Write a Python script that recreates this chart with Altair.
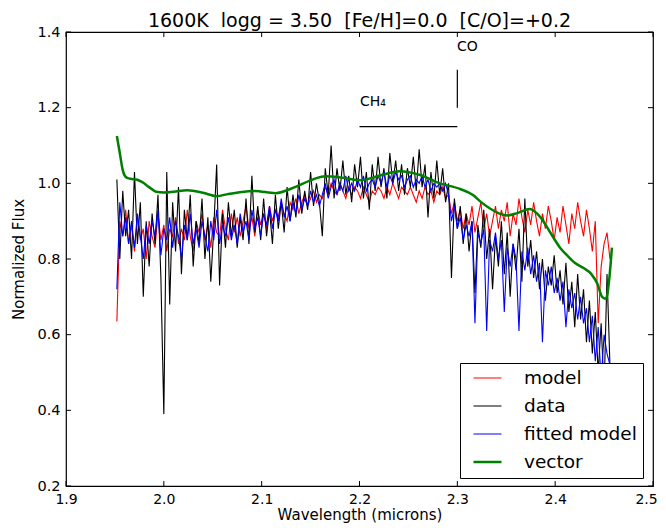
import altair as alt
import pandas as pd

# ---------------- data ----------------
wave_start = 1.952
wave_step = 0.003
n_points = 169
wave = [round(wave_start + wave_step * i, 3) for i in range(n_points)]

data_flux = [
    1.01, 0.80, 0.98, 0.86, 0.93, 0.80, 1.03, 0.84, 0.95, 0.70,
    0.90, 0.78, 0.92, 0.84, 0.97, 0.75, 0.39, 1.03, 0.68, 0.95,
    0.82, 0.99, 0.76, 0.93, 0.85, 0.97, 0.78, 0.90, 0.84, 0.96,
    0.80, 0.91, 0.74, 0.88, 1.05, 0.73, 0.92, 0.83, 0.95, 0.86,
    0.93, 0.83, 0.91, 0.85, 0.96, 0.84, 1.02, 0.87, 0.94, 0.85,
    0.96, 0.86, 0.93, 0.84, 0.97, 0.88, 0.95, 0.87, 0.99, 0.90,
    0.97, 0.91, 1.01, 0.92, 0.98, 0.93, 1.03, 0.94, 1.00, 0.95,
    0.86, 1.04, 0.97, 1.10, 0.96, 1.04, 0.98, 1.06, 0.97, 1.02,
    0.95, 1.05, 0.99, 1.07, 0.96, 1.03, 0.93, 1.05, 0.98, 1.07,
    0.99, 1.04, 0.96, 1.08, 1.00, 1.06, 0.98, 1.05, 0.97, 1.04,
    0.99, 1.07, 0.98, 1.09, 0.99, 1.05, 0.91, 1.03, 0.96, 1.06,
    0.97, 1.04, 0.95, 1.00, 0.75, 0.96, 0.88, 0.94, 0.84, 0.92,
    0.82, 0.90, 0.71, 0.89, 0.83, 0.93, 0.80, 0.88, 0.72, 0.86,
    0.78, 0.90, 0.76, 0.87, 0.70, 0.84, 0.77, 0.88, 0.74, 0.96,
    0.78, 0.85, 0.75, 0.82, 0.72, 0.80, 0.69, 0.78, 0.73, 0.81,
    0.71, 0.77, 0.68, 0.79, 0.66, 0.74, 0.62, 0.76, 0.64, 0.72,
    0.58, 0.69, 0.55, 0.66, 0.50, 0.63, 0.45, 0.76, 0.52,
]

model_flux = [
    0.635, 0.90, 0.86, 0.93, 0.84, 0.89, 0.82, 0.91, 0.85, 0.88,
    0.80, 0.90, 0.86, 0.83, 0.92, 0.85, 0.89, 0.82, 0.88, 0.86,
    0.91, 0.84, 0.88, 0.85, 0.93, 0.86, 0.82, 0.90, 0.87, 0.92,
    0.85, 0.89, 0.83, 0.91, 0.87, 0.86, 0.93, 0.88, 0.85, 0.92,
    0.87, 0.91, 0.86, 0.90, 0.94, 0.88, 0.91, 0.86, 0.93, 0.89,
    0.92, 0.88, 0.94, 0.90, 0.93, 0.91, 0.95, 0.92, 0.90, 0.95,
    0.93, 0.96, 0.92, 0.95, 0.97, 0.94, 0.96, 0.98, 0.95, 0.97,
    0.96, 0.99, 0.97, 1.00, 0.98, 0.97, 1.00, 0.98, 0.96, 0.99,
    0.97, 0.99, 0.98, 0.96, 0.99, 0.97, 0.95, 0.98, 0.97, 0.99,
    0.98, 0.96, 0.99, 0.97, 1.00, 0.98, 0.96, 0.99, 0.98, 0.97,
    0.99, 0.97, 0.95, 0.98, 0.96, 0.99, 0.97, 0.98, 0.95, 0.98,
    0.97, 0.99, 0.96, 0.97, 0.92, 0.95, 0.90, 0.93, 0.88, 0.92,
    0.89, 0.94, 0.87, 0.91, 0.95, 0.88, 0.92, 0.86, 0.90, 0.94,
    0.88, 0.93, 0.90, 0.95, 0.86, 0.92, 0.89, 0.96, 0.91, 0.87,
    0.93, 0.89, 0.95, 0.90, 0.86, 0.92, 0.88, 0.94, 0.90, 0.85,
    0.91, 0.87, 0.94, 0.89, 0.84, 0.92, 0.88, 0.95, 0.90, 0.86,
    0.93, 0.88, 0.82, 0.90, 0.63, 0.78, 0.84, 0.87, 0.80,
]

fitted_flux = [
    0.72, 0.95, 0.86, 0.91, 0.84, 0.90, 0.83, 0.92, 0.86, 0.80,
    0.89, 0.84, 0.90, 0.86, 0.93, 0.81, 0.88, 0.85, 0.91, 0.83,
    0.90, 0.86, 0.80, 0.89, 0.85, 0.92, 0.84, 0.88, 0.83, 0.90,
    0.86, 0.82, 0.90, 0.85, 0.93, 0.84, 0.89, 0.86, 0.91, 0.85,
    0.89, 0.84, 0.92, 0.87, 0.90, 0.85, 0.93, 0.88, 0.91, 0.86,
    0.92, 0.89, 0.94, 0.88, 0.93, 0.90, 0.96, 0.91, 0.94, 0.90,
    0.95, 0.92, 0.97, 0.93, 0.96, 0.94, 0.98, 0.95, 0.97, 0.94,
    0.97, 1.00, 0.96, 0.99, 1.01, 0.97, 1.00, 0.98, 1.02, 0.98,
    1.00, 0.98, 1.01, 0.99, 1.02, 0.98, 1.00, 1.01, 0.99, 1.02,
    1.00, 1.03, 0.99, 1.02, 1.00, 1.03, 1.01, 1.02, 0.99, 1.01,
    1.02, 0.99, 1.01, 1.00, 1.02, 0.99, 1.01, 0.98, 1.00, 0.99,
    1.00, 0.98, 1.00, 0.97, 0.90, 0.94, 0.88, 0.91, 0.85, 0.89,
    0.86, 0.90, 0.63, 0.87, 0.84, 0.88, 0.61, 0.85, 0.82, 0.87,
    0.80, 0.85, 0.66, 0.83, 0.78, 0.84, 0.80, 0.61, 0.82, 0.77,
    0.83, 0.76, 0.81, 0.74, 0.79, 0.58, 0.77, 0.73, 0.78, 0.71,
    0.75, 0.69, 0.74, 0.62, 0.72, 0.67, 0.71, 0.64, 0.70, 0.63,
    0.67, 0.58, 0.65, 0.53, 0.62, 0.48, 0.60, 0.55, 0.52,
]

vector_wave = [1.952, 1.955, 1.958, 1.962, 1.966, 1.972, 1.978, 1.985, 1.992, 2.000,
               2.010, 2.024, 2.040, 2.054, 2.066, 2.076, 2.093, 2.114, 2.134, 2.150,
               2.165, 2.185, 2.200, 2.220, 2.241, 2.262, 2.282, 2.303, 2.316, 2.323,
               2.333, 2.343, 2.351, 2.362, 2.374, 2.385, 2.395, 2.405, 2.412, 2.420,
               2.429, 2.437, 2.443, 2.448, 2.452, 2.455, 2.458]
vector_flux = [1.125, 1.08, 1.035, 1.015, 1.012, 1.010, 1.003, 0.99, 0.978, 0.976,
               0.978, 0.982, 0.975, 0.966, 0.972, 0.976, 0.98, 0.974, 0.99, 1.008,
               1.019, 1.014, 1.008, 1.02, 1.032, 1.022, 1.0, 0.985, 0.969, 0.953,
               0.934, 0.92, 0.915, 0.922, 0.932, 0.91, 0.87, 0.83, 0.81, 0.79,
               0.776, 0.76, 0.735, 0.70, 0.695, 0.74, 0.83]

series_names = ["model", "data", "fitted model", "vector"]
series_colors = ["#ff0000", "#000000", "#0000ff", "#008000"]
series_widths = [1.1, 1.1, 1.1, 2.5]

x_ticks = [1.9, 2.0, 2.1, 2.2, 2.3, 2.4, 2.5]
y_ticks = [0.2, 0.4, 0.6, 0.8, 1.0, 1.2, 1.4]

# annotations
ch4_band = {"x": [2.2], "x2": [2.3], "y": [1.15]}
co_line = {"x": [2.3], "y": [1.2], "y2": [1.3]}
labels_text = ["CH\u2084", "CO"]
labels_x = [2.2005, 2.2997]
labels_y = [1.215, 1.36]

title_text = "1600K\u00a0 logg = 3.50\u00a0 [Fe/H]=0.0\u00a0 [C/O]=+0.2"

# ---------------- build tables ----------------
rows = []
for name, flux in [("model", model_flux), ("data", data_flux), ("fitted model", fitted_flux)]:
    for i, (w, f) in enumerate(zip(wave, flux)):
        rows.append({"series": name, "wave": w, "flux": f, "idx": i})
for i, (w, f) in enumerate(zip(vector_wave, vector_flux)):
    rows.append({"series": "vector", "wave": w, "flux": f, "idx": i})
df = pd.DataFrame(rows)

W, H = 587, 454
FONT = "DejaVu Sans"

xscale = alt.Scale(domain=[1.9, 2.5], nice=False, zero=False)
yscale = alt.Scale(domain=[0.2, 1.4], nice=False, zero=False)
cscale = alt.Scale(domain=series_names, range=series_colors)
wscale = alt.Scale(domain=series_names, range=series_widths, type="ordinal")

xaxis = alt.Axis(values=x_ticks, format=".1f", ticks=False, domain=False, grid=False,
                 labelFontSize=14, labelPadding=6, labelColor="black",
                 labelOffset={"condition": {"test": "datum.value > 2.45", "value": -7}, "value": 0},
                 title="Wavelength (microns)", titleFontSize=15, titleFontWeight="normal",
                 titleColor="black", titlePadding=1, labelFlush=False)
yaxis = alt.Axis(values=y_ticks, format=".1f", ticks=False, domain=False, grid=False,
                 labelFontSize=14.5, labelPadding=6, labelColor="black",
                 title="Normalized Flux", titleFontSize=15, titleFontWeight="normal",
                 titleColor="black", titlePadding=10, labelFlush=False)

legend = alt.Legend(title=None, orient="none", legendX=394, legendY=331,
                    symbolType="stroke", symbolSize=784, labelFontSize=18.5, labelFont=FONT,
                    labelColor="black", labelOffset=21, padding=6, rowPadding=9,
                    clipHeight=18, symbolOffset=6,
                    symbolStrokeWidth=alt.ExprRef("datum.value === 'vector' ? 2.8 : 1.4"),
                    strokeColor="black", fillColor="white", cornerRadius=0)


def X(field):
    return alt.X(field, scale=xscale, axis=xaxis)


def Y(field):
    return alt.Y(field, scale=yscale, axis=yaxis)


def series_layer(name, interp="linear"):
    return alt.Chart(df).transform_filter(alt.datum.series == name).mark_line(
        clip=True, interpolate=interp
    ).encode(
        x=X("wave:Q"),
        y=Y("flux:Q"),
        color=alt.Color("series:N", scale=cscale, legend=legend),
        strokeWidth=alt.StrokeWidth("series:N", scale=wscale, legend=None),
        order="idx:Q",
    )


layers = [series_layer("model"), series_layer("data"), series_layer("fitted model"),
          series_layer("vector", "monotone")]

ch4 = alt.Chart(pd.DataFrame(ch4_band)).mark_rule(color="black", strokeWidth=1.2).encode(
    x=X("x:Q"), x2="x2:Q", y=Y("y:Q"))
co = alt.Chart(pd.DataFrame(co_line)).mark_rule(color="black", strokeWidth=1.2).encode(
    x=X("x:Q"), y=Y("y:Q"), y2="y2:Q")
txt = alt.Chart(pd.DataFrame({"t": labels_text, "x": labels_x, "y": labels_y})).mark_text(
    align="left", baseline="middle", fontSize=14, font=FONT, color="black").encode(
    x=X("x:Q"), y=Y("y:Q"), text="t:N")

xt = pd.DataFrame({"t": x_ticks})
yt = pd.DataFrame({"t": y_ticks})
TL = 5
tick_b = alt.Chart(xt).mark_rule(color="black").encode(
    x=X("t:Q"), y=alt.value(H), y2=alt.value(H - TL))
tick_t = alt.Chart(xt).mark_rule(color="black").encode(
    x=X("t:Q"), y=alt.value(0), y2=alt.value(TL))
tick_l = alt.Chart(yt).mark_rule(color="black").encode(
    y=Y("t:Q"), x=alt.value(0), x2=alt.value(TL))
tick_r = alt.Chart(yt).mark_rule(color="black").encode(
    y=Y("t:Q"), x=alt.value(W), x2=alt.value(W - TL))

chart = alt.layer(*layers, ch4, co, txt, tick_b, tick_t, tick_l, tick_r).properties(
    width=W, height=H,
    title=alt.TitleParams(title_text, fontSize=19, font=FONT, fontWeight="normal",
                          color="black", offset=-6.5, frame="group"),
    autosize=alt.AutoSizeParams(type="none"),
    padding={"left": 58, "top": 24, "right": 5, "bottom": 38},
).configure(font=FONT).configure_view(stroke="black", strokeWidth=1.2)

chart.save("out.html", embed_options={"renderer": "svg", "actions": False})
